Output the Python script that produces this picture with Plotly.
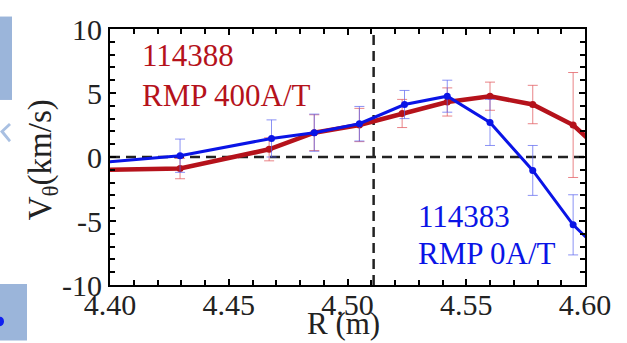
import plotly.graph_objects as go

# ---- data ----
r_blue = [4.392, 4.4295, 4.468, 4.486, 4.505, 4.524, 4.542, 4.560, 4.578, 4.595, 4.613]
v_blue = [-0.5, 0.1, 1.45, 1.9, 2.6, 4.1, 4.75, 2.7, -1.05, -5.3, -8.5]
e_blue = [0, 1.3, 1.45, 1.45, 1.35, 1.1, 1.25, 1.8, 1.95, 2.35, 0]

r_red = [4.392, 4.4295, 4.467, 4.486, 4.505, 4.523, 4.542, 4.560, 4.578, 4.595, 4.613]
v_red = [-1.02, -0.9, 0.6, 1.9, 2.5, 3.4, 4.3, 4.75, 4.1, 2.5, -0.55]
e_red = [0, 0.8, 0.9, 1.4, 1.3, 1.1, 1.1, 1.1, 1.5, 4.1, 0]

x_ticks = [4.40, 4.45, 4.50, 4.55, 4.60]
x_ticklabels = ["4.40", "4.45", "4.50", "4.55", "4.60"]
y_ticks = [-10, -5, 0, 5, 10]
y_ticklabels = ["-10", "-5", "0", "5", "10"]

zero_line_v = 0
separatrix_r = 4.511

FONT = "Liberation Serif, Times New Roman, Times, serif"
RED = "#B5121B"
BLUE = "#0A14E6"

fig = go.Figure()

fig.add_trace(go.Scatter(
    x=r_red, y=v_red, mode="lines+markers",
    line=dict(color=RED, width=4.5),
    marker=dict(color=RED, size=7),
    error_y=dict(type="data", array=e_red, visible=True,
                 color="rgba(225,90,95,0.75)", thickness=1, width=5),
    showlegend=False,
))
fig.add_trace(go.Scatter(
    x=r_blue, y=v_blue, mode="lines+markers",
    line=dict(color=BLUE, width=3),
    marker=dict(color=BLUE, size=7),
    error_y=dict(type="data", array=e_blue, visible=True,
                 color="rgba(90,100,240,0.7)", thickness=1, width=5),
    showlegend=False,
))

# reference dashed lines
fig.add_hline(y=zero_line_v, line=dict(color="#222", width=2.5, dash="10px,6px"), layer="below")
fig.add_vline(x=separatrix_r, line=dict(color="#222", width=2.5, dash="10px,6px"), layer="below")

axis_common = dict(
    showline=True, linecolor="black", linewidth=2, mirror="allticks",
    ticks="inside", ticklen=6, tickwidth=2, tickcolor="black",
    showgrid=False, zeroline=False,
    tickfont=dict(family=FONT, size=30, color="#222"),
)

fig.update_xaxes(range=[4.40, 4.60], tickvals=x_ticks, ticktext=x_ticklabels,
                 ticklabelstandoff=-8,
                 minor=dict(dtick=0.01, ticks="inside", ticklen=5, tickwidth=2, tickcolor="black"),
                 **axis_common)
fig.update_yaxes(range=[-10, 10], tickvals=y_ticks, ticktext=y_ticklabels,
                 minor=dict(dtick=1, ticks="inside", ticklen=5, tickwidth=2, tickcolor="black"),
                 **axis_common)

L, R, T, B = 110, 42, 18, 58
W, H = 627, 343
pw, ph = W - L - R, H - T - B

def px(x):
    return (x - L) / pw

def py(y):
    return (H - B - y) / ph

annotations = [
    dict(text="114388", x=px(140), y=py(46), font=dict(color=RED, size=31, family=FONT)),
    dict(text="RMP 400A/T", x=px(140), y=py(87), font=dict(color=RED, size=31, family=FONT)),
    dict(text="114383", x=px(416), y=py(214), font=dict(color=BLUE, size=31, family=FONT)),
    dict(text="RMP 0A/T", x=px(416), y=py(252), font=dict(color=BLUE, size=31, family=FONT)),
]
for a in annotations:
    a.update(xref="paper", yref="paper", xanchor="left", yanchor="middle", showarrow=False)

annotations.append(dict(text="V<sub>θ</sub>(km/s)", x=px(42), y=py(155), xref="paper", yref="paper",
                        textangle=-90, showarrow=False, xanchor="center", yanchor="middle",
                        font=dict(family=FONT, size=33, color="#222")))
annotations.append(dict(text="R (m)", x=px(343), y=py(325), xref="paper", yref="paper",
                        showarrow=False, xanchor="center", yanchor="middle",
                        font=dict(family=FONT, size=31, color="#222")))

# slide decorations at the left edge
shapes = [
    dict(type="rect", xref="paper", yref="paper", x0=px(0), x1=px(12), y0=py(5), y1=py(92),
         fillcolor="#9BB5DA", line=dict(width=0), layer="below"),
    dict(type="rect", xref="paper", yref="paper", x0=px(0), x1=px(27), y0=py(284), y1=py(343),
         fillcolor="#9BB5DA", line=dict(width=0), layer="below"),
    dict(type="circle", xref="paper", yref="paper", x0=px(-4), x1=px(4), y0=py(318), y1=py(328),
         fillcolor="#1020F0", line=dict(width=0)),
    dict(type="path", xref="paper", yref="paper",
         path=f"M {px(0)} {py(125)} L {px(9)} {py(116)} L {px(11)} {py(118)} L {px(4)} {py(125)} L {px(11)} {py(134)} L {px(9)} {py(136)} Z",
         fillcolor="#A9C0E2", line=dict(width=0)),
]

fig.update_layout(
    width=W, height=H,
    margin=dict(l=L, r=R, t=T, b=B),
    paper_bgcolor="white", plot_bgcolor="white",
    annotations=annotations + list(fig.layout.annotations),
    shapes=list(fig.layout.shapes) + shapes,
)

fig.write_html("out.html")
